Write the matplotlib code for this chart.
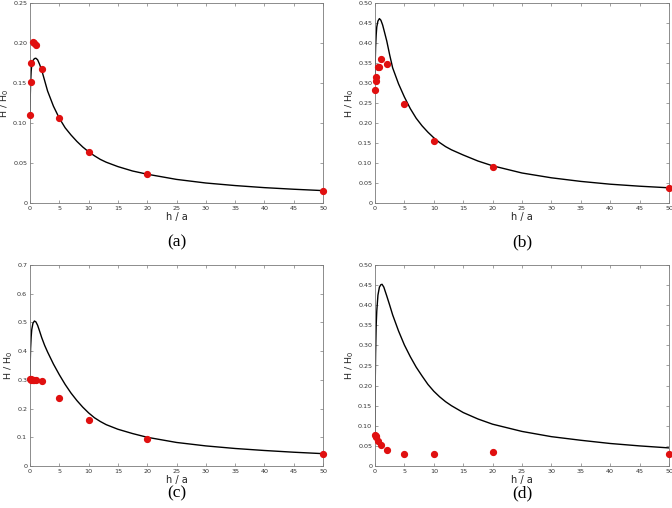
import matplotlib
matplotlib.use("Agg")
import matplotlib.pyplot as plt
from matplotlib.ticker import FuncFormatter, MultipleLocator

# ---- data --------------------------------------------------------------
pts_x = [0, 0.1, 0.25, 0.5, 0.75, 1, 2, 5, 10, 20, 50]
pts_x_d = [0, 0.1, 0.25, 0.5, 1, 2, 5, 10, 20, 50]

a_pts = [0.110, 0.151, 0.175, 0.201, 0.200, 0.198, 0.168, 0.106, 0.064, 0.036, 0.015]
b_pts = [0.283, 0.305, 0.315, 0.341, 0.341, 0.361, 0.347, 0.247, 0.156, 0.089, 0.038]
c_pts = [0.302, 0.302, 0.301, 0.300, 0.300, 0.301, 0.296, 0.238, 0.160, 0.095, 0.043]
d_pts = [0.078, 0.0755, 0.071, 0.061, 0.051, 0.039, 0.030, 0.030, 0.034, 0.031]

curve_x = [0, 0.05, 0.1, 0.2, 0.3, 0.5, 0.75, 1.0, 1.3, 1.6, 2, 2.5, 3, 4, 5,
           6, 7, 8, 9, 10, 11, 12, 13, 15, 17.5, 20, 25, 30, 35, 40, 45, 50]
a_curve = [0.112, 0.135, 0.150, 0.165, 0.172, 0.178, 0.1805, 0.181, 0.179, 0.174,
           0.166, 0.153, 0.140, 0.121, 0.106, 0.094, 0.085, 0.077, 0.070, 0.064,
           0.059, 0.0545, 0.051, 0.0455, 0.040, 0.036, 0.0295, 0.025, 0.0218,
           0.0192, 0.0172, 0.0155]
b_curve = [0.30, 0.36, 0.39, 0.42, 0.44, 0.455, 0.461, 0.457, 0.445, 0.428,
           0.405, 0.37, 0.338, 0.298, 0.265, 0.236, 0.212, 0.193, 0.177, 0.163,
           0.151, 0.141, 0.133, 0.120, 0.105, 0.093, 0.075, 0.063, 0.054, 0.047,
           0.042, 0.038]
c_curve = [0.30, 0.37, 0.41, 0.45, 0.475, 0.497, 0.505, 0.502, 0.49, 0.472,
           0.447, 0.42, 0.397, 0.355, 0.318, 0.284, 0.254, 0.228, 0.205, 0.185,
           0.168, 0.155, 0.144, 0.128, 0.113, 0.100, 0.082, 0.070, 0.061, 0.054,
           0.048, 0.043]

curve_x_d = [0, 0.02, 0.05, 0.1, 0.2, 0.3, 0.5, 0.75, 1.0, 1.2, 1.5, 2, 2.5, 3, 4,
             5, 6, 7, 8, 9, 10, 11, 12, 13, 15, 17.5, 20, 25, 30, 35, 40, 45, 50]
d_curve = [0.075, 0.15, 0.22, 0.28, 0.35, 0.385, 0.425, 0.445, 0.451, 0.452,
           0.445, 0.423, 0.40, 0.376, 0.336, 0.301, 0.272, 0.246, 0.224, 0.203,
           0.186, 0.172, 0.160, 0.150, 0.133, 0.117, 0.104, 0.086, 0.073, 0.064,
           0.056, 0.050, 0.045]

W, H = 672, 508
C_PT = "#E01010"
C_AX = "#7a7a7a"

fig = plt.figure(figsize=(W / 100, H / 100), dpi=100)


def panel(box, cx, cy, px, py, ymax, ystep, fmt, tag, tag_off):
    l, t, r, b = box
    ax = fig.add_axes([l / W, 1 - b / H, (r - l) / W, (b - t) / H])
    ax.plot(cx, cy, color="black", lw=1.0, zorder=2)
    ax.plot(px, py, "o", color=C_PT, ms=4.2, mec=C_PT, zorder=3, clip_on=False)
    ax.set_xlim(0, 50)
    ax.set_ylim(0, ymax)
    ax.xaxis.set_major_locator(MultipleLocator(5))
    ax.yaxis.set_major_locator(MultipleLocator(ystep))
    ax.yaxis.set_major_formatter(FuncFormatter(lambda v, p: "0" if abs(v) < 1e-9 else fmt.format(v)))
    ax.xaxis.set_major_formatter(FuncFormatter(lambda v, p: f"{v:.0f}"))
    ax.tick_params(direction="in", length=2, width=0.5, colors=C_AX, labelcolor="#333333",
                   labelsize=4.6, pad=2, top=True, right=True)
    for s in ax.spines.values():
        s.set_color(C_AX)
        s.set_linewidth(0.6)
    ax.set_xlabel("h / a", fontsize=7, labelpad=1, color="#222222")
    ax.set_ylabel("H / H$_0$", fontsize=6.8, labelpad=1.5, color="#222222")
    fig.text((l + r) / 2 / W, 1 - (b + tag_off) / H, tag, ha="center", va="center",
             fontsize=12.5, family="Liberation Serif")
    return ax


panel((30, 3, 323, 203), curve_x, a_curve, pts_x, a_pts, 0.25, 0.05, "{:.2f}", "(a)", 39)
panel((375, 3, 669, 203), curve_x, b_curve, pts_x, b_pts, 0.5, 0.05, "{:.2f}", "(b)", 39)
panel((30, 265, 323, 466), curve_x, c_curve, pts_x, c_pts, 0.7, 0.1, "{:.1f}", "(c)", 27)
panel((375, 265, 669, 466), curve_x_d, d_curve, pts_x_d, d_pts, 0.5, 0.05, "{:.2f}", "(d)", 27)

fig.savefig("out.png", dpi=100, facecolor="white")
